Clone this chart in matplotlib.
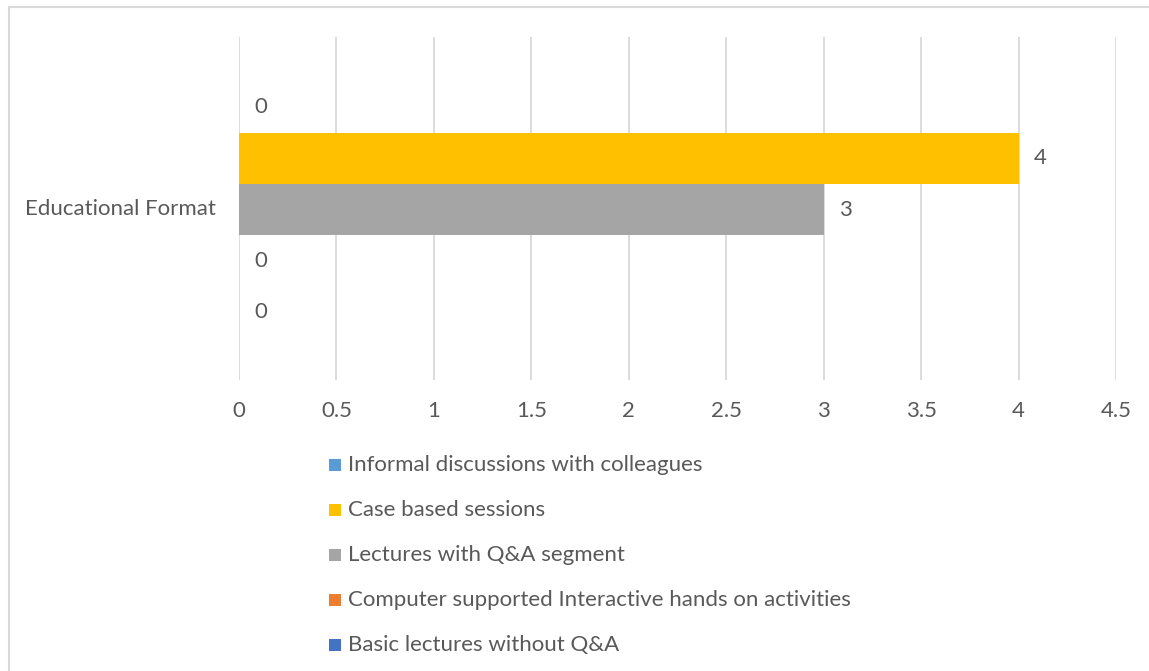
import matplotlib
matplotlib.use("Agg")
import matplotlib.pyplot as plt
from matplotlib.patches import Rectangle

category = "Educational Format"
series_names = [
    "Informal discussions with colleagues",
    "Case based sessions",
    "Lectures with Q&A segment",
    "Computer supported Interactive hands on activities",
    "Basic lectures without Q&A",
]
series_values = [0, 4, 3, 0, 0]
series_colors = ["#5B9BD5", "#FFC000", "#A5A5A5", "#ED7D31", "#4472C4"]
x_ticks = [0, 0.5, 1, 1.5, 2, 2.5, 3, 3.5, 4, 4.5]
x_tick_labels = ["0", "0.5", "1", "1.5", "2", "2.5", "3", "3.5", "4", "4.5"]

W, H = 1149, 671
plt.rcParams['font.family'] = ['Lato', 'DejaVu Sans']
TXT = "#595959"
FS = 16

fig = plt.figure(figsize=(W / 100, H / 100), dpi=100)
fig.patches.append(Rectangle((9 / W, 0 - 0.01), 1.05, 1 - 7 / H + 0.01,
                             transform=fig.transFigure, fill=False,
                             edgecolor="#D9D9D9", linewidth=1.5))

ax = fig.add_axes([239 / W, 1 - 380 / H, (1116 - 239) / W, (380 - 37) / H])
ypos = list(range(len(series_names)))
ax.barh(ypos, series_values, height=1.0, color=series_colors, zorder=3)
for y, v in zip(ypos, series_values):
    ax.text(v + 0.08, y, f"{v:g}", va="center", ha="left", fontsize=FS, color=TXT)

ax.set_xlim(0, 4.5)
ax.set_ylim(5.34, -1.38)
ax.set_xticks(x_ticks)
ax.set_xticklabels(x_tick_labels, fontsize=FS, color=TXT)
ax.set_yticks([])
ax.grid(axis="x", color="#D9D9D9", linewidth=1.3, zorder=0)
for s in ax.spines.values():
    s.set_visible(False)
ax.tick_params(axis="x", length=0, pad=15)

fig.text(216 / W, 1 - 209 / H, category, ha="right", va="center", fontsize=FS, color=TXT)

for i, (name, col) in enumerate(zip(series_names, series_colors)):
    yc = 465 + 45 * i
    fig.patches.append(Rectangle((329 / W, 1 - (yc + 6) / H), 12 / W, 12 / H,
                                 transform=fig.transFigure, facecolor=col, edgecolor="none"))
    fig.text(348 / W, 1 - yc / H, name, ha="left", va="center", fontsize=FS, color=TXT)

fig.savefig("out.png", dpi=100)
